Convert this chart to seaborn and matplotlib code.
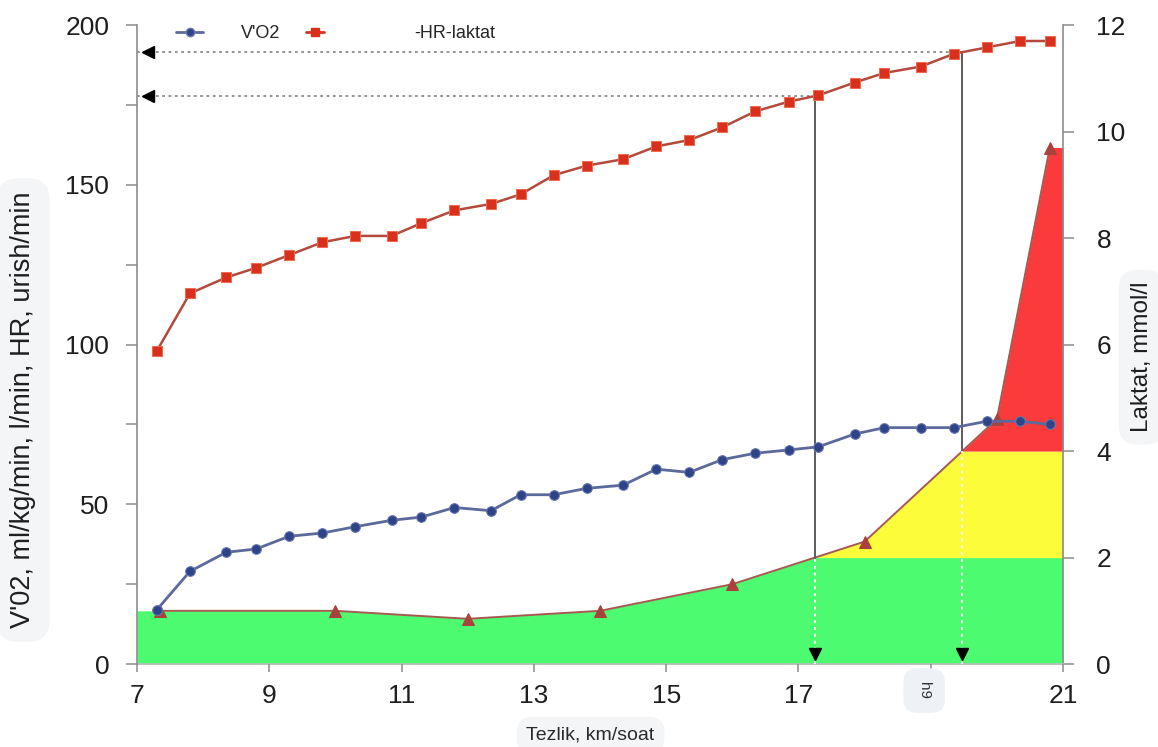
import numpy as np
import matplotlib
matplotlib.use("Agg")
import matplotlib.pyplot as plt
from matplotlib.lines import Line2D
from matplotlib.ticker import MultipleLocator
import seaborn as sns

# Running speed, km/h, for each stage of the treadmill test
speed = [7.3, 7.8, 8.35, 8.8, 9.3, 9.8, 10.3, 10.85, 11.3, 11.8, 12.35, 12.8, 13.3, 13.8,
         14.35, 14.85, 15.35, 15.85, 16.35, 16.85, 17.3, 17.85, 18.3, 18.85, 19.35, 19.85,
         20.35, 20.8]
# Oxygen uptake, ml/kg/min
vo2 = [17, 29, 35, 36, 40, 41, 43, 45, 46, 49, 48, 53, 53, 55, 56, 61, 60, 64, 66, 67, 68,
       72, 74, 74, 74, 76, 76, 75]
# Heart rate, beats/min
hr = [98, 116, 121, 124, 128, 132, 134, 134, 138, 142, 144, 147, 153, 156, 158, 162, 164,
      168, 173, 176, 178, 182, 185, 187, 191, 193, 195, 195]
# Blood lactate samples
lac_speed = [7.35, 10.0, 12.0, 14.0, 16.0, 18.0, 20.0, 20.8]
lactate = [1.0, 1.0, 0.85, 1.0, 1.5, 2.3, 4.6, 9.7]
# Lactate thresholds, mmol/l
thresholds = [2.0, 4.0]

x_ticks = [7, 9, 11, 13, 15, 17, 19, 21]
x_tick_labels = ["7", "9", "11", "13", "15", "17", "", "21"]

sns.set_style("white")
plt.rcParams["font.family"] = ["Liberation Sans", "DejaVu Sans"]

fig = plt.figure(figsize=(11.58, 7.47), dpi=100)
ax = fig.add_axes([0.1183, 0.111, 0.7997, 0.8555])
ax2 = ax.twinx()
ax.set_zorder(2)
ax2.set_zorder(1)
ax.patch.set_visible(False)

XMIN, XMAX = 7, 21
ax.set_xlim(XMIN, XMAX)
ax.set_ylim(0, 200)
ax2.set_ylim(0, 12)
scale = 200 / 12  # lactate units -> left axis units

# Lactate zones
lx = np.r_[XMIN, lac_speed, XMAX]
ly = np.r_[lactate[0], lactate, lactate[-1]]
xs = np.linspace(XMIN, XMAX, 3000)
ys = np.interp(xs, lx, ly)
lo, hi = thresholds
ax2.fill_between(xs, 0, np.minimum(ys, lo), color="#4dfb71", lw=0)
ax2.fill_between(xs, lo, np.clip(ys, lo, hi), color="#fdfc3a", lw=0)
ax2.fill_between(xs, hi, np.maximum(ys, hi), color="#fb3b3b", lw=0)

sns.lineplot(x=lac_speed, y=lactate, ax=ax2, color="#a45a50", lw=1.4, marker="^",
             markersize=8, markerfacecolor="#a8423a", markeredgecolor="#a8423a",
             legend=False)

# Heart rate and VO2
sns.lineplot(x=speed, y=hr, ax=ax, color="#b34a3c", lw=1.8, marker="s", markersize=7,
             markerfacecolor="#d8301c", markeredgecolor="#f06a50", legend=False)
sns.lineplot(x=speed, y=vo2, ax=ax, color="#5b6a9a", lw=2.0, marker="o", markersize=7,
             markerfacecolor="#2e4388", markeredgecolor="#6a7ab0", legend=False)


def crossing(level):
    for i in range(1, len(lactate)):
        if lactate[i] >= level > lactate[i - 1]:
            f = (level - lactate[i - 1]) / (lactate[i] - lactate[i - 1])
            return lac_speed[i - 1] + f * (lac_speed[i] - lac_speed[i - 1])
    return None


for level in thresholds:
    xt = crossing(level)
    hr_t = np.interp(xt, speed, hr)
    ax.plot([xt, xt], [level * scale, hr_t], color="#5c5c5c", lw=1.4, zorder=1)
    ax.plot([xt, xt], [0, level * scale], color="#f4f4f4", lw=1.4, ls=(0, (1.5, 2)), zorder=1)
    ax.plot([XMIN, xt], [hr_t, hr_t], color="#8a8a8a", lw=1.3, ls=(0, (1.5, 2)), zorder=1)
    ax.plot([XMIN + 0.17], [hr_t], marker="<", color="black", markersize=8, clip_on=False,
            zorder=5)
    ax.plot([xt], [3.2], marker="v", color="black", markersize=8, clip_on=False, zorder=5)

# Axes styling
for a in (ax, ax2):
    a.spines["top"].set_visible(False)
    for side in ("left", "right", "bottom"):
        a.spines[side].set_color("#8c8c8c")
        a.spines[side].set_linewidth(1.2)
ax.spines["right"].set_visible(False)
ax2.spines["left"].set_visible(False)
ax.spines["bottom"].set_visible(False)
ax2.spines["bottom"].set_color("#bbbbbb")

ax.set_yticks(range(0, 201, 50))
ax.yaxis.set_minor_locator(MultipleLocator(25))
ax2.set_yticks(range(0, 13, 2))
ax.set_xticks(x_ticks)
ax.set_xticklabels(x_tick_labels)

ax.tick_params(axis="y", which="both", left=True, length=8, width=1.1, color="#8c8c8c",
               labelsize=19, pad=12, labelcolor="#1e1e1e")
ax.tick_params(axis="x", bottom=True, length=6, width=1.1, color="#8c8c8c", labelsize=19,
               pad=8, labelcolor="#1e1e1e")
ax2.tick_params(axis="y", right=True, length=8, width=1.1, color="#8c8c8c", labelsize=19,
                pad=16, labelcolor="#1e1e1e")

box = dict(boxstyle="round,pad=0.5,rounding_size=0.8", fc="#f4f5f7", ec="none")
fig.text(0.02, 0.451, "V'02, ml/kg/min, l/min, HR, urish/min", rotation=90,
         ha="center", va="center", fontsize=19.5, color="#1e1e1e", bbox=box)
fig.text(0.986, 0.522, "Laktat, mmol/l", rotation=90, ha="center", va="center",
         fontsize=17.5, color="#1e1e1e", bbox=box)
fig.text(0.51, 0.016, "Tezlik, km/soat", ha="center", va="center", fontsize=14,
         color="#2a2a2a", bbox=box)
ax.text(18.9, -8.3, "h9", rotation=-90, ha="center", va="center", fontsize=11,
        color="#333333", bbox=dict(boxstyle="round,pad=0.9", fc="#eef1f6", ec="none"))

# Legend
h_vo2 = Line2D([], [], color="#5b6a9a", lw=2, marker="o", markersize=6,
               markerfacecolor="#2e4388", markeredgecolor="#6a7ab0", markevery=[1])
h_hr = Line2D([], [], color="#d8301c", lw=2, marker="s", markersize=6,
              markerfacecolor="#d8301c", markeredgecolor="#d8301c", markevery=[1])
leg1 = ax.legend([h_vo2], ["V'O2"], loc="upper left", bbox_to_anchor=(0.025, 1.025),
                 frameon=False, fontsize=13, handlelength=1.5, handletextpad=2.1)
ax.add_artist(leg1)
ax.legend([h_hr], ["-HR-laktat"], loc="upper left", bbox_to_anchor=(0.165, 1.025),
          frameon=False, fontsize=13, handlelength=1.0, handletextpad=5.0)

fig.savefig("out.png", dpi=100)
